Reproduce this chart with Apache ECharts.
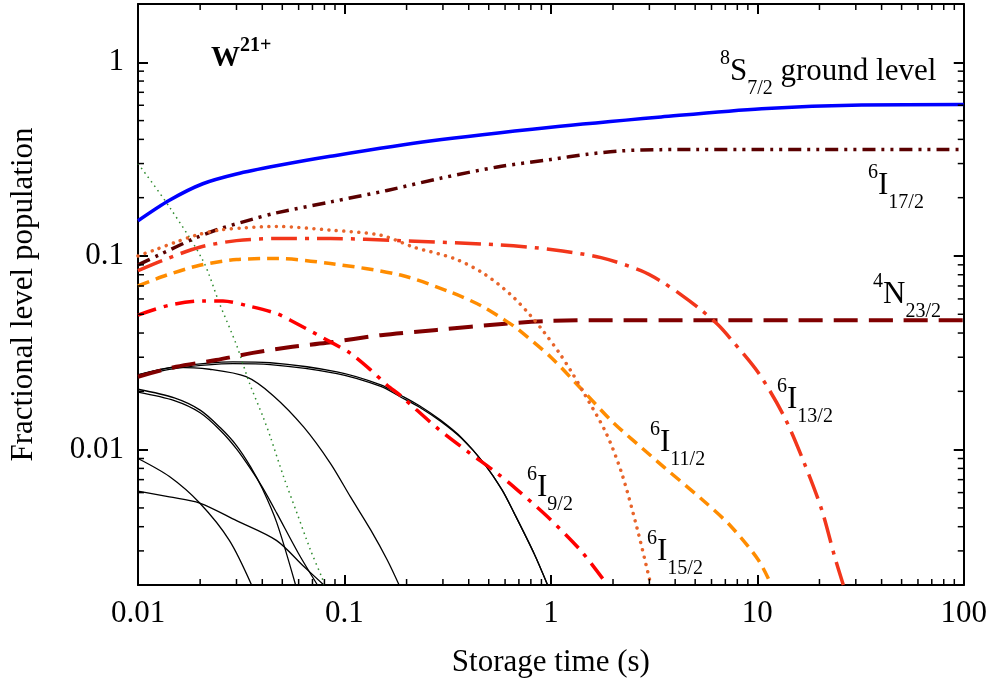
<!DOCTYPE html>
<html><head><meta charset="utf-8">
<script src="https://cdn.jsdelivr.net/npm/echarts@6/dist/echarts.min.js"></script>
<style>html,body{margin:0;padding:0;background:#fff}#c{width:990px;height:687px}</style>
</head><body><div id="c"></div>
<script>
// ---------- axis ranges / tick labels ----------
const xTickLabels = ['0.01', '0.1', '1', '10', '100'];
const yTickLabels = ['0.01', '0.1', '1'];
const xMin = 0.01, xMax = 100, yMin = 0.002, yMax = 2;

// ---------- series data (storage time t in s, fractional population v) ----------
const groundT = [0.01, 0.0142, 0.0206, 0.03, 0.0468, 0.0855, 0.26, 1, 3.42, 10.5, 32, 100];
const groundV = [0.152, 0.194, 0.236, 0.265, 0.292, 0.327, 0.392, 0.462, 0.522, 0.576, 0.602, 0.605];

const i17T = [0.01, 0.0126, 0.0187, 0.0248, 0.0353, 0.0468, 0.0855, 0.161, 0.292, 0.55, 1, 1.5, 2.2, 3.42, 5, 10, 100];
const i17V = [0.09, 0.101, 0.123, 0.138, 0.154, 0.167, 0.19, 0.218, 0.252, 0.288, 0.315, 0.335, 0.349, 0.354, 0.355, 0.355, 0.355];

const n23T = [0.01, 0.0153, 0.0239, 0.036, 0.0528, 0.082, 0.15, 0.28, 0.6, 1, 2, 100];
const n23V = [0.0238, 0.0268, 0.029, 0.0316, 0.0337, 0.0356, 0.039, 0.0415, 0.0447, 0.0462, 0.0466, 0.0466];

const i15T = [0.01, 0.0122, 0.0153, 0.0191, 0.0248, 0.0334, 0.0468, 0.0855, 0.15, 0.217, 0.34, 0.474, 0.64, 0.8, 0.925, 1.1, 1.25, 1.45, 1.85, 2.2, 2.62, 3.05];
const i15V = [0.1, 0.108, 0.118, 0.128, 0.136, 0.14, 0.142, 0.136, 0.128, 0.111, 0.097, 0.081, 0.063, 0.049, 0.0405, 0.0315, 0.0255, 0.0195, 0.0122, 0.0076, 0.0039, 0.002];

const i13T = [0.01, 0.0132, 0.0199, 0.03, 0.0468, 0.0855, 0.187, 0.571, 1, 1.75, 2.73, 3.42, 4.28, 5.3, 6.47, 7.48, 10.1, 13.5, 16.9, 20.5, 23.7, 26.1];
const i13V = [0.084, 0.095, 0.111, 0.12, 0.123, 0.123, 0.12, 0.114, 0.108, 0.098, 0.084, 0.074, 0.063, 0.053, 0.044, 0.037, 0.025, 0.0148, 0.0085, 0.0049, 0.0028, 0.002];

const i11T = [0.01, 0.0137, 0.0199, 0.03, 0.0468, 0.0855, 0.187, 0.327, 0.457, 0.6, 0.69, 1, 1.44, 2.02, 3.05, 3.54, 5.54, 7.48, 10.1, 11.7];
const i11V = [0.07, 0.0795, 0.0895, 0.0958, 0.097, 0.0914, 0.0797, 0.065, 0.0555, 0.0465, 0.042, 0.03, 0.02, 0.0137, 0.0093, 0.0081, 0.0054, 0.004, 0.0027, 0.002];

const i9T = [0.01, 0.0142, 0.0206, 0.0258, 0.0347, 0.0468, 0.0547, 0.0855, 0.107, 0.134, 0.161, 0.187, 0.282, 0.394, 0.55, 0.687, 0.964, 1.4, 1.88];
const i9V = [0.0495, 0.0557, 0.0586, 0.0585, 0.055, 0.0505, 0.0466, 0.036, 0.0314, 0.0258, 0.0215, 0.019, 0.0129, 0.0098, 0.00755, 0.0062, 0.0045, 0.003, 0.002];

const greenT = [0.01, 0.0142, 0.0206, 0.0248, 0.03, 0.0347, 0.0403, 0.0437, 0.0507, 0.0589, 0.0684, 0.078, 0.08];
const greenV = [0.30, 0.179, 0.095, 0.0569, 0.0347, 0.022, 0.0148, 0.0117, 0.00726, 0.0047, 0.00304, 0.00217, 0.002];

// thin black curves (other levels)
const blackA1T = [0.01, 0.0153, 0.0288, 0.0437, 0.092, 0.15, 0.187, 0.23, 0.292, 0.37, 0.474, 0.58, 0.664, 0.83, 0.964];
const blackA1V = [0.0243, 0.0268, 0.0284, 0.0281, 0.0252, 0.0216, 0.0191, 0.0169, 0.0142, 0.0115, 0.0085, 0.0062, 0.0047, 0.0029, 0.002];
const blackA2T = [0.01, 0.0153, 0.0288, 0.0437, 0.092, 0.15, 0.187, 0.23, 0.292, 0.37, 0.474, 0.58, 0.664, 0.83, 0.964];
const blackA2V = [0.024, 0.0263, 0.0278, 0.0275, 0.0247, 0.0212, 0.0187, 0.0166, 0.014, 0.0114, 0.0085, 0.0062, 0.0047, 0.0029, 0.002];
const blackBT = [0.01, 0.0153, 0.0222, 0.0334, 0.0452, 0.0634, 0.0855, 0.107, 0.134, 0.161, 0.184];
const blackBV = [0.0243, 0.0266, 0.026, 0.0238, 0.019, 0.0131, 0.0085, 0.0057, 0.00385, 0.0027, 0.002];
const blackC1T = [0.01, 0.015, 0.02, 0.025, 0.03, 0.035, 0.04, 0.047, 0.058];
const blackC1V = [0.0205, 0.0185, 0.016, 0.013, 0.0105, 0.0082, 0.0063, 0.0042, 0.002];
const blackC2T = [0.01, 0.015, 0.02, 0.025, 0.03, 0.035, 0.04, 0.047, 0.06, 0.074];
const blackC2V = [0.0198, 0.0179, 0.0155, 0.0126, 0.0101, 0.008, 0.0064, 0.0047, 0.0029, 0.002];
const blackDT = [0.01, 0.0142, 0.0199, 0.0277, 0.0355];
const blackDV = [0.009, 0.00726, 0.0053, 0.0034, 0.002];
const blackET = [0.01, 0.0142, 0.0199, 0.03, 0.0468, 0.0634, 0.0795];
const blackEV = [0.0061, 0.0057, 0.0053, 0.0043, 0.0034, 0.0025, 0.002];

// ---------- helpers ----------
const FONT = "'Liberation Serif', 'Times New Roman', serif";
const zip = (a, b) => a.map((x, i) => [x, b[i]]);

function lineSeries(name, t, v, color, width, type, cap) {
  return {
    name, type: 'line', data: zip(t, v), symbol: 'none', smooth: 0.3,
    clip: true, silent: true, z: 3,
    lineStyle: { color, width, type: type || 'solid', cap: cap || 'butt', join: 'round' }
  };
}

const decadeLabel = (labels, offset) => (val) => {
  const l = Math.log10(val), k = Math.round(l);
  if (Math.abs(l - k) > 1e-6) return '';
  return labels[k + offset] || '';
};

// minor tick values (2..9 per decade) inside the ranges
const minorX = [], minorY = [];
for (let d = -2; d <= 1; d++) for (let m = 2; m <= 9; m++) minorX.push(m * Math.pow(10, d));
for (let d = -3; d <= 0; d++) for (let m = 2; m <= 9; m++) {
  const v = m * Math.pow(10, d);
  if (v > yMin * 1.0001 && v < yMax * 0.9999) minorY.push(v);
}

const ctx = document.createElement('canvas').getContext('2d');
function tw(text, size, bold) {
  ctx.font = (bold ? 'bold ' : '') + size + "px 'Liberation Serif'";
  return ctx.measureText(text).width;
}
function txt(x, baseline, text, size, bold) {
  return {
    type: 'text', x: x, y: baseline - 0.3375 * size, silent: true, z: 100,
    style: { text, fontSize: size, fontFamily: FONT, fontWeight: bold ? 'bold' : 'normal',
             fill: '#000', align: 'left', verticalAlign: 'middle' }
  };
}
function level(x, base, sup, main, sub, rest) {
  const out = []; let cx = x;
  out.push(txt(cx, base - 17, sup, 20)); cx += tw(sup, 20);
  out.push(txt(cx, base, main, 31)); cx += tw(main, 31);
  out.push(txt(cx, base + 13, sub, 20)); cx += tw(sub, 20);
  if (rest) out.push(txt(cx, base, rest, 31));
  return out;
}

const labelEls = [].concat(
  [txt(211, 68, 'W', 29, true), txt(211 + tw('W', 29, true), 53, '21+', 20, true)],
  level(720, 82, '8', 'S', '7/2', ' ground level'),
  level(868, 196, '6', 'I', '17/2'),
  level(873, 305, '4', 'N', '23/2'),
  level(777, 410, '6', 'I', '13/2'),
  level(650, 453, '6', 'I', '11/2'),
  level(527, 498, '6', 'I', '9/2'),
  level(647, 562, '6', 'I', '15/2')
);

const axisCommon = {
  type: 'log', logBase: 10,
  axisLine: { show: true, onZero: false, lineStyle: { color: '#000', width: 2 } },
  axisTick: { show: true, inside: true, length: 10, lineStyle: { color: '#000', width: 2 } },
  splitLine: { show: false }, minorTick: { show: false }, minorSplitLine: { show: false }
};
const labelFont = { fontFamily: FONT, fontSize: 31, color: '#000' };

const blk = '#000';
const option = {
  animation: false,
  backgroundColor: '#fff',
  grid: { left: 138, right: 26, top: 4, bottom: 102, containLabel: false },
  xAxis: [
    Object.assign({}, axisCommon, {
      min: xMin, max: xMax, position: 'bottom',
      axisLabel: Object.assign({ margin: 13, formatter: decadeLabel(xTickLabels, 2) }, labelFont),
      name: 'Storage time (s)', nameLocation: 'middle', nameGap: 62,
      nameTextStyle: Object.assign({}, labelFont)
    }),
    Object.assign({}, axisCommon, { min: xMin, max: xMax, position: 'top', axisLabel: { show: false } })
  ],
  yAxis: [
    Object.assign({}, axisCommon, {
      min: yMin, max: yMax, position: 'left',
      axisLabel: Object.assign({ margin: 14, formatter: decadeLabel(yTickLabels, 2) }, labelFont),
      name: 'Fractional level population', nameLocation: 'middle', nameGap: 99, nameRotate: 90,
      nameTextStyle: Object.assign({}, labelFont)
    }),
    Object.assign({}, axisCommon, { min: yMin, max: yMax, position: 'right', axisLabel: { show: false } })
  ],
  graphic: labelEls,
  series: [
    lineSeries('A1', blackA1T, blackA1V, blk, 1.3),
    lineSeries('A2', blackA2T, blackA2V, blk, 1.3),
    lineSeries('B', blackBT, blackBV, blk, 1.3),
    lineSeries('C1', blackC1T, blackC1V, blk, 1.3),
    lineSeries('C2', blackC2T, blackC2V, blk, 1.3),
    lineSeries('D', blackDT, blackDV, blk, 1.3),
    lineSeries('E', blackET, blackEV, blk, 1.3),
    lineSeries('green', greenT, greenV, '#2e8b2e', 1.5, [1.5, 4]),
    lineSeries('4N23/2', n23T, n23V, '#800000', 4, [24, 11]),
    lineSeries('6I17/2', i17T, i17V, '#5a0000', 3.5, [13, 6, 3, 6, 3, 6]),
    lineSeries('6I9/2', i9T, i9V, '#ff0000', 3.5, [19, 8, 4, 8]),
    lineSeries('6I11/2', i11T, i11V, '#ff8c00', 3.5, [12, 7]),
    lineSeries('6I15/2', i15T, i15V, '#e8642a', 3.5, [0.01, 7.5], 'round'),
    lineSeries('6I13/2', i13T, i13V, '#f2361b', 3.5, [26, 8, 4, 8]),
    lineSeries('8S7/2', groundT, groundV, '#0000ff', 3.5),
    {
      type: 'custom', name: 'minorX', data: minorX.map(v => [v, yMin]), silent: true, z: 10,
      renderItem: (params, api) => {
        const v = api.value(0);
        const b = api.coord([v, yMin]), t = api.coord([v, yMax]);
        const st = { stroke: '#000', lineWidth: 1.5 };
        return { type: 'group', children: [
          { type: 'line', shape: { x1: b[0], y1: b[1], x2: b[0], y2: b[1] - 6 }, style: st },
          { type: 'line', shape: { x1: t[0], y1: t[1], x2: t[0], y2: t[1] + 6 }, style: st }
        ] };
      }
    },
    {
      type: 'custom', name: 'minorY', data: minorY.map(v => [xMin, v]), silent: true, z: 10,
      renderItem: (params, api) => {
        const v = api.value(1);
        const l = api.coord([xMin, v]), r = api.coord([xMax, v]);
        const st = { stroke: '#000', lineWidth: 1.5 };
        return { type: 'group', children: [
          { type: 'line', shape: { x1: l[0], y1: l[1], x2: l[0] + 6, y2: l[1] }, style: st },
          { type: 'line', shape: { x1: r[0], y1: r[1], x2: r[0] - 6, y2: r[1] }, style: st }
        ] };
      }
    }
  ]
};

const chart = echarts.init(document.getElementById('c'), null, { renderer: 'canvas' });
chart.setOption(option);
</script></body></html>
